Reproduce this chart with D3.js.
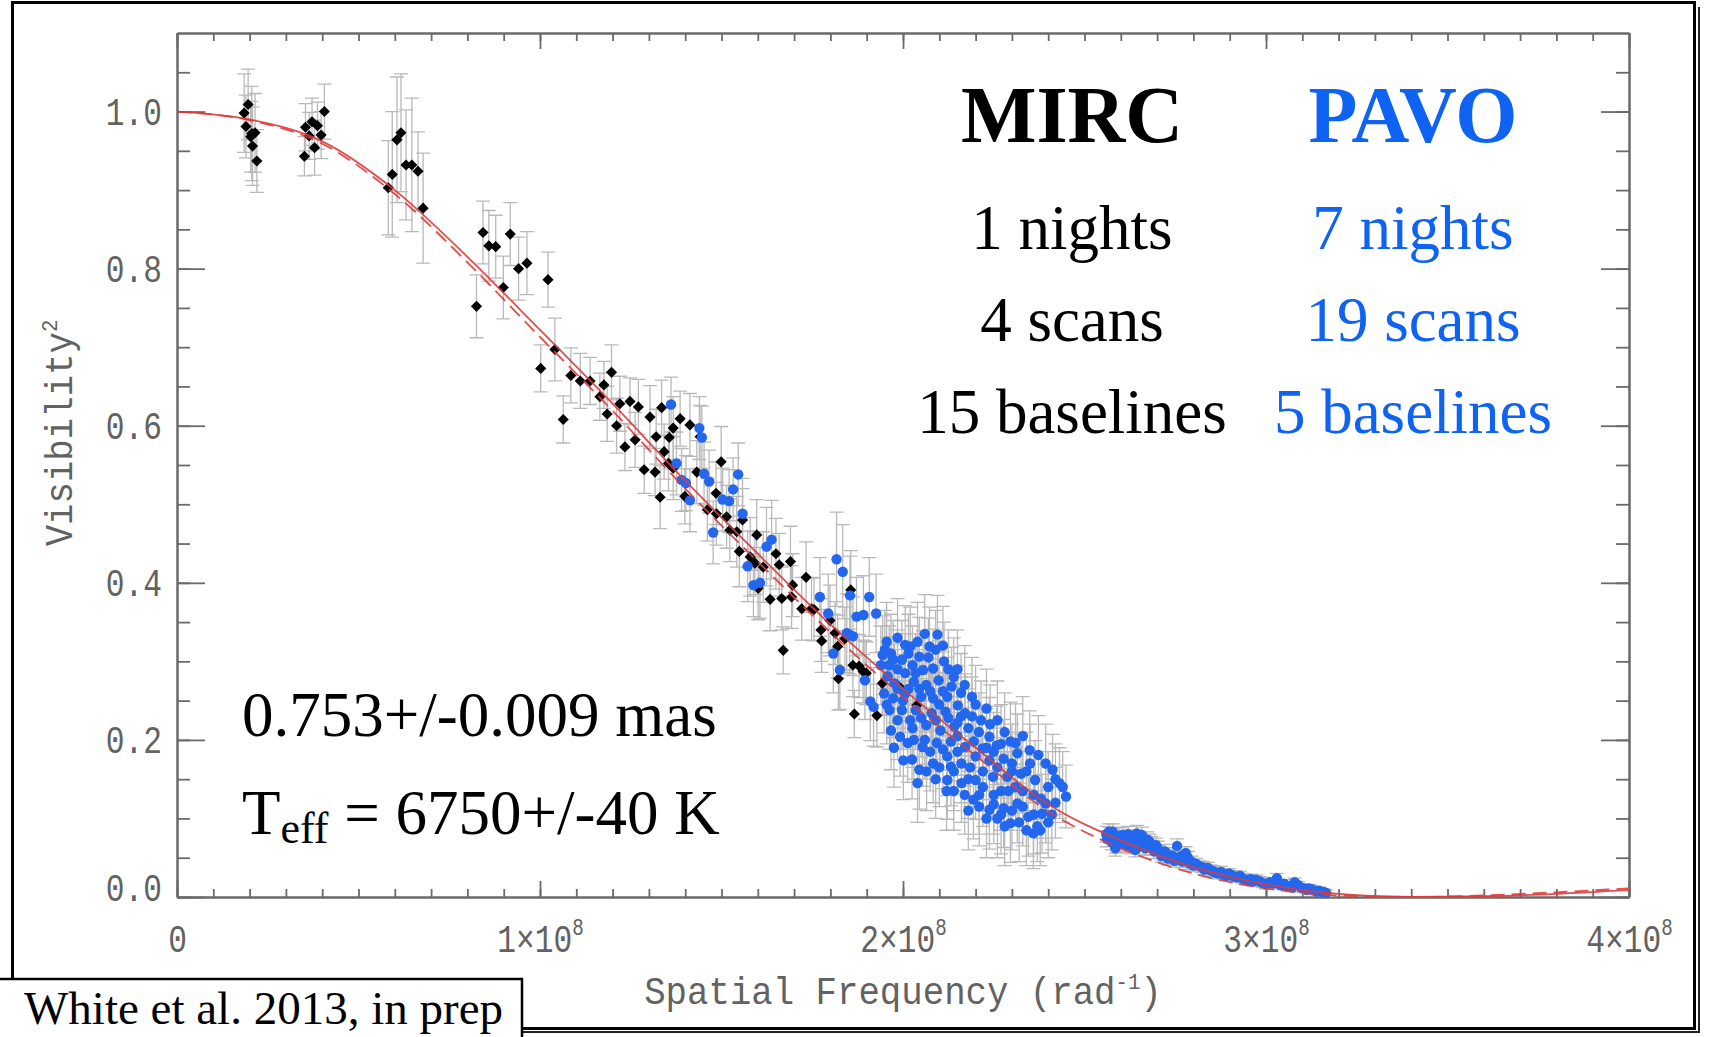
<!DOCTYPE html>
<html>
<head>
<meta charset="utf-8">
<script src="https://cdn.jsdelivr.net/npm/d3@7"></script>
<style>
  html, body { margin: 0; padding: 0; background: #fff; }
  svg { display: block; }
</style>
</head>
<body>
<svg id="chart" width="1709" height="1037"></svg>
<script>
// Spatial frequency in units of 1e8 rad^-1, squared visibility
const xTickValues = [0, 1, 2, 3, 4];
const yTickValues = [0, 0.2, 0.4, 0.6, 0.8, 1.0];

// Model visibility curves (solid and dashed fits)
const modelFreq   = [0, 0.2, 0.4, 0.6, 0.8, 1.0, 1.2, 1.4, 1.6, 1.8, 2.0, 2.2, 2.4, 2.6, 2.8, 3.0, 3.2, 3.4, 3.6, 3.8, 4.0];
const modelSolid  = [1.000, 0.990, 0.962, 0.900, 0.815, 0.722, 0.628, 0.530, 0.437, 0.347, 0.265, 0.190, 0.118, 0.072, 0.038, 0.016, 0.004, 0.000, 0.001, 0.004, 0.009];
const modelDashed = [1.000, 0.989, 0.959, 0.895, 0.808, 0.713, 0.619, 0.520, 0.427, 0.337, 0.255, 0.180, 0.109, 0.062, 0.030, 0.011, 0.002, 0.000, 0.002, 0.006, 0.011];

// MIRC measurements: [frequency, V^2, error]
const mirc = [
  [0.196,1.009,0.045],[0.185,0.998,0.05],[0.190,0.981,0.04],[0.206,0.972,0.06],[0.215,0.973,0.05],[0.203,0.968,0.045],[0.208,0.956,0.05],[0.220,0.937,0.04],
  [0.351,0.943,0.025],[0.354,0.980,0.03],[0.364,0.969,0.03],[0.372,0.987,0.03],[0.379,0.954,0.035],[0.387,0.982,0.03],[0.397,0.970,0.03],[0.406,1.000,0.035],
  [0.582,0.903,0.06],[0.593,0.920,0.08],[0.606,0.964,0.08],[0.617,0.973,0.075],[0.631,0.932,0.07],[0.647,0.932,0.085],[0.664,0.924,0.05],[0.678,0.877,0.07],
  [0.825,0.752,0.04],[0.843,0.846,0.04],[0.859,0.829,0.045],[0.878,0.828,0.04],[0.899,0.776,0.04],[0.918,0.844,0.04],[0.941,0.800,0.04],[0.964,0.807,0.04],
  [1.022,0.786,0.035],[1.002,0.673,0.03],[1.041,0.697,0.04],[1.064,0.608,0.03],[1.085,0.664,0.035],[1.111,0.657,0.035],[1.138,0.657,0.03],
  [1.176,0.652,0.03],[1.197,0.668,0.035],[1.165,0.637,0.03],[1.185,0.615,0.035],[1.211,0.600,0.035],[1.220,0.628,0.035],[1.248,0.631,0.03],[1.271,0.624,0.035],
  [1.234,0.573,0.03],[1.262,0.582,0.035],[1.287,0.544,0.03],[1.317,0.541,0.03],[1.331,0.509,0.04],[1.303,0.611,0.04],[1.335,0.623,0.035],[1.320,0.586,0.035],
  [1.356,0.585,0.04],[1.367,0.597,0.04],[1.386,0.609,0.035],[1.413,0.601,0.04],[1.441,0.586,0.04],[1.342,0.567,0.035],[1.354,0.552,0.035],[1.367,0.546,0.04],
  [1.399,0.510,0.035],[1.432,0.541,0.04],[1.461,0.493,0.04],[1.485,0.514,0.04],[1.499,0.554,0.045],[1.486,0.488,0.04],[1.514,0.484,0.04],[1.523,0.467,0.04],
  [1.542,0.465,0.045],[1.558,0.480,0.04],[1.549,0.440,0.045],[1.579,0.433,0.05],[1.597,0.461,0.045],[1.592,0.425,0.04],[1.615,0.420,0.045],[1.601,0.393,0.04],
  [1.634,0.379,0.04],[1.650,0.437,0.045],[1.659,0.423,0.04],[1.666,0.380,0.04],[1.690,0.427,0.045],[1.696,0.397,0.04],[1.693,0.382,0.04],[1.721,0.367,0.04],
  [1.733,0.407,0.045],[1.748,0.367,0.04],[1.774,0.340,0.04],[1.776,0.326,0.04],[1.799,0.352,0.045],[1.813,0.336,0.04],[1.820,0.319,0.04],[1.822,0.278,0.04],
  [1.840,0.329,0.04],[1.856,0.391,0.05],[1.879,0.294,0.04],[1.899,0.285,0.04],[1.943,0.272,0.04],[1.670,0.314,0.03],[1.755,0.366,0.04],[1.866,0.233,0.03],
  [1.928,0.231,0.04],[1.989,0.268,0.04],[2.038,0.244,0.04],[1.862,0.295,0.04],[1.890,0.287,0.04]
];

// PAVO measurements: [frequency, V^2, error]
const pavo = [
  [1.361,0.627,0.035],[1.439,0.597,0.04],[1.446,0.585,0.04],[1.376,0.552,0.04],[1.390,0.531,0.04],[1.402,0.527,0.035],[1.413,0.505,0.04],[1.452,0.539,0.04],
  [1.466,0.529,0.04],[1.546,0.538,0.04],[1.532,0.519,0.04],[1.503,0.506,0.04],[1.521,0.504,0.04],[1.558,0.488,0.045],[1.477,0.464,0.04],[1.638,0.455,0.05],
  [1.624,0.446,0.05],[1.572,0.421,0.045],[1.588,0.397,0.04],[1.606,0.400,0.045],[1.817,0.430,0.06],[1.834,0.414,0.06],[1.854,0.384,0.05],[1.907,0.382,0.05],
  [1.771,0.382,0.05],[1.794,0.361,0.05],[1.872,0.357,0.05],[1.891,0.359,0.05],[1.926,0.361,0.05],[1.845,0.336,0.05],[1.808,0.310,0.05],[1.826,0.289,0.05],
  [1.895,0.276,0.05],[1.910,0.249,0.05],[1.919,0.242,0.05],[1.853,0.334,0.05],[1.862,0.332,0.05],
  [2.095,0.334,0.05],[2.073,0.319,0.05],[2.020,0.319,0.05],[1.967,0.310,0.05],[1.944,0.308,0.05],[1.939,0.295,0.05],[1.973,0.302,0.05],[1.997,0.302,0.05],
  [2.045,0.306,0.05],[2.026,0.295,0.05],[2.055,0.289,0.05],[2.083,0.291,0.05],[2.113,0.300,0.05],[2.006,0.285,0.05],[1.958,0.281,0.05],[1.977,0.272,0.05],
  [2.030,0.274,0.05],[2.064,0.270,0.05],[2.098,0.276,0.05],[2.134,0.268,0.05],[1.948,0.259,0.05],[1.973,0.253,0.05],[2.006,0.259,0.05],[2.050,0.255,0.05],
  [2.083,0.253,0.05],[2.122,0.255,0.05],[2.151,0.244,0.05],[1.963,0.238,0.05],[1.997,0.238,0.05],[2.035,0.238,0.05],[2.079,0.234,0.05],[2.117,0.236,0.05],
  [2.171,0.234,0.05],[2.190,0.230,0.05],[1.967,0.212,0.05],[1.992,0.204,0.05],[2.026,0.215,0.05],[2.064,0.219,0.05],[2.103,0.212,0.05],[2.141,0.217,0.05],
  [2.209,0.210,0.05],[2.238,0.204,0.05],[2.013,0.196,0.05],[2.054,0.191,0.05],[2.093,0.196,0.05],[2.132,0.198,0.05],[2.171,0.191,0.05],[2.219,0.189,0.05],
  [2.258,0.193,0.05],[2.296,0.198,0.05],[2.310,0.196,0.05],[2.001,0.174,0.05],[2.045,0.162,0.05],[2.083,0.170,0.05],[2.122,0.179,0.05],[2.161,0.170,0.05],
  [2.200,0.179,0.05],[2.238,0.174,0.05],[2.277,0.176,0.05],[2.315,0.183,0.05],[2.349,0.187,0.05],[2.373,0.181,0.05],[2.393,0.170,0.05],[2.412,0.162,0.045],
  [2.431,0.145,0.045],[2.449,0.128,0.04],[2.122,0.149,0.05],[2.161,0.145,0.05],[2.200,0.149,0.05],[2.248,0.153,0.05],[2.287,0.153,0.05],[2.325,0.157,0.05],
  [2.364,0.149,0.05],[2.194,0.124,0.05],[2.238,0.111,0.05],[2.277,0.113,0.05],[2.315,0.119,0.05],[2.345,0.102,0.05],[2.383,0.106,0.05],[2.296,0.094,0.05],
  [2.359,0.081,0.045],[2.378,0.085,0.045],[2.393,0.119,0.05],[2.132,0.166,0.05],[2.006,0.321,0.05],[1.985,0.330,0.05],[2.060,0.335,0.05],[2.040,0.325,0.05],
  [2.110,0.320,0.05],[2.150,0.290,0.05],[2.170,0.270,0.05],[2.190,0.255,0.05],[2.230,0.240,0.05],[2.260,0.225,0.05],[2.280,0.210,0.05],[2.330,0.205,0.05],
  [2.350,0.170,0.05],[2.270,0.135,0.05],[2.220,0.140,0.05],[2.180,0.110,0.05],[2.330,0.135,0.05],[2.400,0.140,0.045],[2.420,0.120,0.045],[1.955,0.325,0.05],
  [2.000,0.250,0.05],[2.100,0.245,0.05],[2.060,0.200,0.05],[2.150,0.205,0.05],[2.180,0.150,0.05],[2.250,0.185,0.05],[2.300,0.170,0.05],[2.260,0.100,0.05],
  [1.950,0.315,0.05],[1.962,0.295,0.05],[1.985,0.290,0.05],[2.015,0.310,0.05],[2.035,0.285,0.05],[2.070,0.305,0.05],[2.090,0.315,0.05],[2.125,0.290,0.05],
  [2.140,0.280,0.05],[2.160,0.260,0.05],[1.985,0.265,0.05],[2.015,0.265,0.05],[2.045,0.265,0.05],[2.075,0.262,0.05],[2.110,0.262,0.05],[2.160,0.230,0.05],
  [2.200,0.245,0.05],[2.215,0.225,0.05],[2.240,0.220,0.05],[1.955,0.245,0.05],[1.985,0.225,0.05],[2.020,0.225,0.05],[2.050,0.228,0.05],[2.090,0.225,0.05],
  [2.125,0.228,0.05],[2.150,0.222,0.05],[2.180,0.215,0.05],[1.975,0.190,0.05],[2.030,0.200,0.05],[2.075,0.185,0.05],[2.110,0.188,0.05],[2.150,0.185,0.05],
  [2.195,0.198,0.05],[2.230,0.190,0.05],[2.270,0.195,0.05],[2.025,0.175,0.05],[2.065,0.160,0.05],[2.100,0.165,0.05],[2.140,0.160,0.05],[2.185,0.165,0.05],
  [2.220,0.160,0.05],[2.260,0.165,0.05],[2.300,0.160,0.05],[2.340,0.160,0.05],[2.040,0.145,0.05],[2.090,0.150,0.05],[2.140,0.135,0.05],[2.170,0.130,0.05],
  [2.210,0.130,0.05],[2.250,0.130,0.05],[2.290,0.135,0.05],[2.310,0.140,0.05],[2.360,0.130,0.05],[2.380,0.125,0.05],[2.420,0.150,0.045],[2.440,0.140,0.045],
  [2.210,0.115,0.05],[2.250,0.118,0.05],[2.300,0.110,0.05],[2.330,0.115,0.05],[2.360,0.105,0.05],[2.280,0.090,0.05],[2.320,0.095,0.05],[2.340,0.085,0.045],
  [2.400,0.095,0.045],[2.410,0.105,0.045],[2.120,0.135,0.05],[2.230,0.100,0.05],[2.270,0.105,0.05],[2.370,0.090,0.045],
  [2.560,0.080,0.010],[2.567,0.083,0.010],[2.575,0.070,0.010],[2.581,0.077,0.010],[2.591,0.073,0.010],[2.598,0.068,0.010],[2.605,0.079,0.010],[2.615,0.066,0.009],
  [2.624,0.075,0.010],[2.632,0.070,0.009],[2.644,0.081,0.010],[2.650,0.064,0.009],[2.658,0.079,0.010],[2.665,0.069,0.009],[2.673,0.073,0.010],[2.683,0.068,0.009],
  [2.692,0.058,0.009],[2.702,0.062,0.009],[2.712,0.052,0.008],[2.721,0.058,0.009],[2.730,0.049,0.008],[2.741,0.053,0.008],[2.755,0.065,0.009],[2.760,0.049,0.008],
  [2.770,0.045,0.008],[2.779,0.056,0.008],[2.789,0.043,0.008],[2.800,0.040,0.007],[2.818,0.039,0.007],[2.830,0.035,0.007],[2.847,0.034,0.007],[2.860,0.031,0.007],
  [2.876,0.032,0.007],[2.890,0.027,0.006],[2.905,0.028,0.006],[2.920,0.025,0.006],[2.934,0.024,0.006],[2.950,0.021,0.006],[2.973,0.022,0.006],[2.990,0.018,0.006],
  [3.011,0.019,0.006],[3.030,0.024,0.006],[3.040,0.015,0.005],[3.050,0.017,0.005],[3.065,0.013,0.005],[3.079,0.019,0.005],[3.089,0.015,0.005],[3.105,0.011,0.005],
  [3.118,0.011,0.005],[3.135,0.008,0.005],[3.147,0.008,0.005],[3.166,0.005,0.004],[3.155,0.006,0.004],[2.585,0.062,0.010],[2.640,0.060,0.009],
  [2.562,0.074,0.010],[2.570,0.079,0.010],[2.578,0.083,0.010],[2.588,0.066,0.010],[2.595,0.078,0.010],[2.603,0.071,0.010],[2.610,0.074,0.010],[2.620,0.080,0.010],
  [2.628,0.064,0.009],[2.636,0.076,0.009],[2.648,0.072,0.009],[2.655,0.070,0.009],[2.668,0.062,0.009],[2.678,0.071,0.009],[2.688,0.063,0.009],[2.697,0.066,0.009],
  [2.707,0.057,0.008],[2.716,0.054,0.008],[2.726,0.055,0.008],[2.736,0.050,0.008],[2.748,0.046,0.008],[2.765,0.052,0.008],[2.775,0.048,0.008],[2.785,0.050,0.008],
  [2.795,0.045,0.007],[2.808,0.042,0.007],[2.825,0.038,0.007],[2.840,0.037,0.007],[2.855,0.033,0.007],[2.868,0.030,0.007],[2.883,0.029,0.006],[2.898,0.030,0.006],
  [2.912,0.026,0.006],[2.928,0.027,0.006],[2.942,0.022,0.006],[2.958,0.023,0.006],[2.965,0.020,0.006],[2.982,0.020,0.006],[3.000,0.016,0.006],[3.020,0.017,0.005],
  [3.058,0.014,0.005],[3.072,0.012,0.005],[3.097,0.012,0.005],[3.112,0.009,0.005],[3.125,0.010,0.005],[3.140,0.007,0.004],[3.160,0.006,0.004]
];

const W = 1709, H = 1037;
const plot = { left: 177, right: 1629, top: 33, bottom: 897 };

const svg = d3.select('#chart');

const x = d3.scaleLinear().domain([0, 4]).range([plot.left, plot.right]);
const y = d3.scaleLinear().domain([0, 1.1]).range([plot.bottom, plot.top]);

const axisColor = '#6a6a6a';
const labelColor = '#626262';
const monoFont = '"Liberation Mono", "DejaVu Sans Mono", monospace';
const serifFont = '"Liberation Serif", "Times New Roman", serif';
const blue = '#0f63f2';

// Outer frame with a slight drop shadow on the right and bottom edges
svg.append('rect').attr('x', 0).attr('y', 0).attr('width', W).attr('height', H).attr('fill', '#fff');
svg.append('path')
  .attr('d', `M17,1032 H1699 V7`)
  .attr('fill', 'none').attr('stroke', '#222').attr('stroke-width', 2);
svg.append('rect')
  .attr('x', 12.5).attr('y', 2.5).attr('width', 1682).attr('height', 1026)
  .attr('fill', 'none').attr('stroke', '#000').attr('stroke-width', 3);

// Axes: minor ticks, major ticks and the frame lines, ticks pointing inward
const minorX = d3.range(0, 41).map(i => i / 10);
const minorY = d3.range(0, 22).map(i => i / 20);

function styleAxis(g) {
  g.selectAll('path.domain').attr('stroke', axisColor).attr('stroke-width', 2);
  g.selectAll('.tick line').attr('stroke', axisColor).attr('stroke-width', 1.8);
}

const axes = svg.append('g');

axes.append('g').attr('transform', `translate(0,${plot.bottom})`)
  .call(d3.axisBottom(x).tickValues(minorX).tickSizeInner(-8).tickSizeOuter(0).tickFormat(''))
  .call(styleAxis);
axes.append('g').attr('transform', `translate(0,${plot.top})`)
  .call(d3.axisTop(x).tickValues(minorX).tickSizeInner(-8).tickSizeOuter(0).tickFormat(''))
  .call(styleAxis);
axes.append('g').attr('transform', `translate(0,${plot.top})`)
  .call(d3.axisTop(x).tickValues(xTickValues).tickSizeInner(-16).tickSizeOuter(0).tickFormat(''))
  .call(styleAxis);
axes.append('g').attr('transform', `translate(${plot.left},0)`)
  .call(d3.axisLeft(y).tickValues(minorY).tickSizeInner(-13).tickSizeOuter(0).tickFormat(''))
  .call(styleAxis);
axes.append('g').attr('transform', `translate(${plot.right},0)`)
  .call(d3.axisRight(y).tickValues(minorY).tickSizeInner(-13).tickSizeOuter(0).tickFormat(''))
  .call(styleAxis);
axes.append('g').attr('transform', `translate(${plot.right},0)`)
  .call(d3.axisRight(y).tickValues(yTickValues).tickSizeInner(-28).tickSizeOuter(0).tickFormat(''))
  .call(styleAxis);

// Bottom axis with labels 0, 1x10^8 ...
const gx = axes.append('g').attr('transform', `translate(0,${plot.bottom})`)
  .call(d3.axisBottom(x).tickValues(xTickValues).tickSizeInner(-16).tickSizeOuter(0).tickPadding(0)
    .tickFormat(d => d === 0 ? '0' : d + '×10'))
  .call(styleAxis);
gx.selectAll('.tick text')
  .attr('y', null).attr('dy', null)
  .attr('transform', 'translate(0,55) scale(0.8,1)')
  .attr('fill', labelColor)
  .attr('font-family', monoFont)
  .attr('font-size', 39)
  .attr('text-anchor', 'middle')
  .each(function (d) {
    if (d !== 0) {
      d3.select(this).append('tspan').attr('dy', -17).attr('font-size', 24).text('8');
    }
  });

// Left axis with labels 0.0 ... 1.0
const gy = axes.append('g').attr('transform', `translate(${plot.left},0)`)
  .call(d3.axisLeft(y).tickValues(yTickValues).tickSizeInner(-28).tickSizeOuter(0).tickPadding(0)
    .tickFormat(d3.format('.1f')))
  .call(styleAxis);
gy.selectAll('.tick text')
  .attr('x', null).attr('dy', null)
  .attr('transform', d => `translate(-15,${d === 0 ? 3 : 13}) scale(0.8,1)`)
  .attr('fill', labelColor)
  .attr('font-family', monoFont)
  .attr('font-size', 39)
  .attr('text-anchor', 'end');

// Axis titles
const xt = svg.append('text')
  .attr('transform', `translate(${(plot.left + plot.right) / 2},1004) scale(0.94,1)`)
  .attr('text-anchor', 'middle')
  .attr('font-family', monoFont).attr('font-size', 38).attr('fill', labelColor);
xt.append('tspan').text('Spatial Frequency (rad');
xt.append('tspan').attr('dy', -15).attr('font-size', 22).text('-1');
xt.append('tspan').attr('dy', 15).text(')');

const yt = svg.append('text')
  .attr('transform', `translate(72,433) rotate(-90) scale(0.94,1)`)
  .attr('text-anchor', 'middle')
  .attr('font-family', monoFont).attr('font-size', 38).attr('fill', labelColor);
yt.append('tspan').text('Visibility');
yt.append('tspan').attr('dy', -15).attr('font-size', 22).text('2');

// Data: error bars first, then markers
const dataLayer = svg.append('g');

function errorBars(data, cls) {
  const g = dataLayer.append('g').attr('class', cls)
    .attr('stroke', '#b9b9b9').attr('stroke-width', 1.3).attr('fill', 'none');
  g.selectAll('path').data(data).join('path')
    .attr('d', d => {
      const cx = x(d[0]), y0 = y(d[1] - d[2]), y1 = y(d[1] + d[2]);
      return `M${cx},${y0}V${y1}M${cx - 7},${y0}H${cx + 7}M${cx - 7},${y1}H${cx + 7}`;
    });
}
errorBars(mirc, 'mirc-err');
errorBars(pavo, 'pavo-err');

dataLayer.append('g').selectAll('path').data(mirc).join('path')
  .attr('d', d3.symbol(d3.symbolSquare, 62)())
  .attr('transform', d => `translate(${x(d[0])},${y(d[1])}) rotate(45)`)
  .attr('fill', '#000');

dataLayer.append('g').selectAll('circle').data(pavo).join('circle')
  .attr('cx', d => x(d[0])).attr('cy', d => y(d[1])).attr('r', 5.2)
  .attr('fill', '#2367ee');

// Model curves
const line = d3.line().x(d => x(d[0])).y(d => y(d[1])).curve(d3.curveMonotoneX);
svg.append('path')
  .attr('d', line(modelFreq.map((f, i) => [f, modelSolid[i]])))
  .attr('fill', 'none').attr('stroke', '#e03a3a').attr('stroke-width', 1.8).attr('opacity', 0.9);
svg.append('path')
  .attr('d', line(modelFreq.map((f, i) => [f, modelDashed[i]])))
  .attr('fill', 'none').attr('stroke', '#e03a3a').attr('stroke-width', 1.8)
  .attr('stroke-dasharray', '14,7').attr('opacity', 0.9);

// Instrument summary
const summary = svg.append('g').attr('font-family', serifFont);
const mircCol = 1072, pavoCol = 1413;
summary.append('text').attr('x', mircCol).attr('y', 142).attr('text-anchor', 'middle')
  .attr('font-size', 80).attr('font-weight', 'bold').attr('fill', '#000').text('MIRC');
summary.append('text').attr('x', pavoCol).attr('y', 142).attr('text-anchor', 'middle')
  .attr('font-size', 80).attr('font-weight', 'bold').attr('fill', blue).text('PAVO');
const mircLines = ['1 nights', '4 scans', '15 baselines'];
const pavoLines = ['7 nights', '19 scans', '5 baselines'];
const lineY = [249, 341, 433];
mircLines.forEach((t, i) => summary.append('text').attr('x', mircCol).attr('y', lineY[i])
  .attr('text-anchor', 'middle').attr('font-size', 63).attr('fill', '#000').text(t));
pavoLines.forEach((t, i) => summary.append('text').attr('x', pavoCol).attr('y', lineY[i])
  .attr('text-anchor', 'middle').attr('font-size', 63).attr('fill', blue).text(t));

// Fit results
svg.append('text').attr('x', 242).attr('y', 736)
  .attr('font-family', serifFont).attr('font-size', 63).attr('fill', '#000')
  .text('0.753+/-0.009 mas');
const teff = svg.append('text').attr('x', 242).attr('y', 834)
  .attr('font-family', serifFont).attr('font-size', 63).attr('fill', '#000');
teff.append('tspan').text('T');
teff.append('tspan').attr('font-size', 44).attr('dy', 9).text('eff');
teff.append('tspan').attr('dy', -9).text(' = 6750+/-40 K');

// Citation box
svg.append('rect').attr('x', -3).attr('y', 979).attr('width', 525).attr('height', 70)
  .attr('fill', '#fff').attr('stroke', '#000').attr('stroke-width', 2.5);
svg.append('text').attr('x', 24).attr('y', 1024)
  .attr('font-family', serifFont).attr('font-size', 47).attr('fill', '#000')
  .text('White et al. 2013, in prep');
</script>
</body>
</html>
